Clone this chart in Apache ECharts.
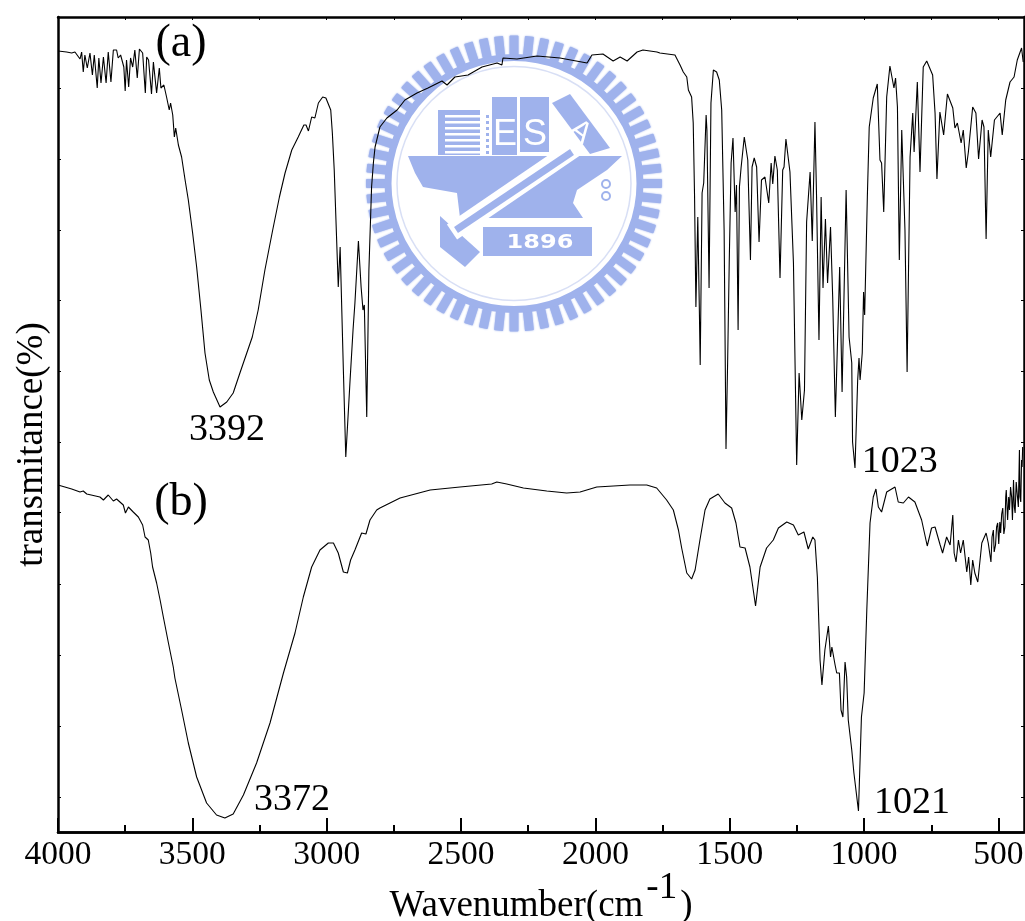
<!DOCTYPE html>
<html>
<head>
<meta charset="utf-8">
<script src="https://cdn.jsdelivr.net/npm/echarts@6/dist/echarts.min.js"></script>
<style>html,body{margin:0;padding:0;background:#fff}#main{width:1025px;height:921px}</style>
</head>
<body>
<div id="main"></div>
<script>
// wavenumber, transmittance (arbitrary offset units)
var spectrumA = [
    [4000,781],[3968,780],[3949,779],[3937,780],[3918,773],[3912,780],[3906,760],[3900,777],[3891,764],[3881,779],
    [3872,757],[3865,777],[3854,744],[3848,774],[3840,749],[3831,775],[3821,749],[3813,780],[3803,750],[3794,782],
    [3782,782],[3776,774],[3767,777],[3755,765],[3750,741],[3745,772],[3737,745],[3730,774],[3722,765],[3714,782],
    [3705,754],[3697,783],[3685,779],[3675,739],[3670,775],[3663,772],[3652,738],[3645,770],[3633,739],[3623,764],
    [3617,744],[3606,747],[3596,735],[3586,722],[3581,729],[3573,717],[3567,695],[3562,704],[3552,687],[3540,675],
    [3527,652],[3515,632],[3499,599],[3484,565],[3468,522],[3453,479],[3437,452],[3422,440],[3397,425],[3372,430],
    [3348,439],[3323,459],[3277,495],[3255,522],[3230,562],[3201,602],[3176,635],[3155,659],[3130,682],[3106,695],
    [3085,707],[3077,707],[3068,701],[3056,715],[3044,714],[3031,729],[3015,735],[3003,734],[2985,722],[2979,699],
    [2972,662],[2957,545],[2950,585],[2938,462],[2929,375],[2913,452],[2902,502],[2895,529],[2882,591],[2872,545],
    [2865,522],[2860,527],[2851,415],[2843,562],[2833,645],[2826,670],[2820,685],[2802,705],[2776,714],[2738,722],
    [2709,732],[2664,739],[2623,744],[2571,751],[2552,747],[2523,755],[2474,757],[2422,765],[2366,769],[2348,767],
    [2344,774],[2292,773],[2217,776],[2132,774],[2031,769],[2013,777],[1972,778],[1934,771],[1908,775],[1882,771],
    [1845,780],[1823,782],[1771,780],[1760,779],[1704,777],[1685,767],[1673,760],[1660,755],[1654,742],[1642,735],
    [1636,709],[1631,635],[1626,525],[1619,615],[1613,519],[1610,467],[1603,639],[1597,649],[1588,717],[1585,702],
    [1577,544],[1570,729],[1561,762],[1549,760],[1539,752],[1530,722],[1521,602],[1514,383],[1508,469],[1502,569],
    [1495,669],[1488,694],[1480,620],[1475,647],[1469,502],[1464,645],[1458,664],[1446,695],[1433,672],[1423,572],
    [1417,665],[1409,674],[1400,665],[1391,590],[1382,652],[1369,655],[1355,629],[1346,669],[1340,648],[1332,676],
    [1323,662],[1313,554],[1303,662],[1298,665],[1291,693],[1276,660],[1263,569],[1251,367],[1242,459],[1232,412],
    [1222,442],[1214,610],[1201,660],[1193,591],[1183,710],[1177,635],[1168,492],[1160,635],[1153,544],[1144,613],
    [1136,549],[1125,605],[1117,535],[1107,415],[1091,565],[1082,440],[1067,642],[1056,495],[1046,469],[1043,390],
    [1034,364],[1024,452],[1019,474],[1015,452],[1007,479],[1002,540],[998,517],[988,635],[981,705],[966,734],
    [951,748],[941,672],[935,669],[927,620],[916,735],[904,766],[889,744],[883,754],[876,725],[869,572],
    [860,702],[848,602],[840,460],[829,675],[819,719],[814,680],[802,750],[792,660],[780,765],[767,771],
    [745,757],[736,719],[729,653],[718,720],[704,697],[690,738],[670,724],[662,704],[653,709],[639,689],
    [631,702],[620,664],[612,680],[596,725],[584,719],[574,673],[561,712],[554,705],[546,593],[538,702],
    [529,675],[515,712],[494,719],[486,697],[473,732],[457,750],[442,755],[430,772],[414,784],[408,770]
];
var spectrumB = [
    [4000,347],[3949,343],[3918,340],[3906,341],[3893,338],[3844,335],[3831,332],[3813,337],[3794,331],[3782,333],
    [3757,327],[3749,319],[3738,325],[3720,320],[3701,315],[3685,307],[3676,295],[3664,292],[3655,279],[3648,265],
    [3633,249],[3620,232],[3608,215],[3589,189],[3571,165],[3565,154],[3540,122],[3515,89],[3484,55],[3447,29],
    [3410,17],[3379,14],[3348,18],[3310,37],[3261,69],[3211,109],[3161,159],[3118,199],[3087,235],[3056,265],
    [3025,282],[2994,289],[2975,289],[2957,279],[2938,260],[2923,259],[2911,272],[2895,282],[2870,299],[2854,298],
    [2839,312],[2814,322],[2802,324],[2727,334],[2615,342],[2504,345],[2386,348],[2367,350],[2330,348],[2268,344],
    [2181,341],[2107,339],[2057,340],[1995,345],[1871,347],[1809,347],[1772,344],[1735,332],[1710,322],[1691,302],
    [1679,284],[1660,259],[1642,253],[1629,262],[1611,292],[1592,322],[1574,333],[1543,338],[1518,329],[1493,324],
    [1477,309],[1462,285],[1443,284],[1425,265],[1404,226],[1387,265],[1363,284],[1338,292],[1319,304],[1288,310],
    [1263,307],[1245,297],[1224,300],[1208,283],[1191,295],[1183,292],[1174,255],[1164,172],[1157,147],[1146,182],
    [1133,206],[1125,175],[1120,185],[1108,167],[1102,159],[1092,159],[1086,122],[1079,115],[1071,170],[1065,155],
    [1059,112],[1046,82],[1038,59],[1021,21],[1010,115],[1000,139],[990,222],[978,309],[966,335],[956,343],
    [947,325],[935,320],[916,340],[885,345],[873,330],[854,329],[835,335],[811,330],[786,312],[765,286],
    [749,304],[736,305],[717,287],[708,279],[693,295],[680,287],[670,317],[665,279],[658,270],[649,292],
    [641,279],[631,292],[618,260],[611,275],[603,247],[596,272],[588,259],[577,250],[562,289],[546,299],
    [538,289],[528,270],[524,295],[519,302],[516,280],[511,287],[507,305],[503,309],[499,288],[495,310],
    [492,299],[488,318],[484,324],[480,298],[476,305],[473,335],[471,342],[466,312],[462,335],[459,322],
    [455,345],[451,335],[448,312],[444,352],[441,325],[438,319],[434,350],[430,352],[426,325],[422,382],
    [420,335],[417,330],[414,372],[412,365],[410,385]
];
var xLabels = [4000, 3500, 3000, 2500, 2000, 1500, 1000, 500];
var xMinorTicks = [4000, 3750, 3500, 3250, 3000, 2750, 2500, 2250, 2000, 1750, 1500, 1250, 1000, 750, 500];
var yTicks = [744, 673, 602, 532, 461, 390, 320, 248, 177, 106, 35];
var peakLabels = [[3371, 402, '3392'], [3129, 32, '3372'], [867, 370, '1023'], [822, 29, '1021']];
var panelLabels = [[3542, 788, '(a)'], [3542, 329, '(b)']];

var serif = '"Liberation Serif", "Times New Roman", serif';
var xMin = 405, xMax = 4000, yMax = 815;

function xAxisBase(extra) {
    return Object.assign({
        type: 'value', inverse: true, min: xMin, max: xMax, splitLine: { show: false },
        axisLine: { onZero: false, lineStyle: { color: '#000', width: 2.5 } },
        axisLabel: { show: false }
    }, extra);
}
function yAxisBase(extra) {
    return Object.assign({
        type: 'value', min: 0, max: yMax, splitLine: { show: false },
        axisLine: { onZero: false, lineStyle: { color: '#000', width: 2.5 } },
        axisTick: { inside: true, length: 3, customValues: yTicks, lineStyle: { color: '#000', width: 1 } },
        axisLabel: { show: false }
    }, extra);
}

// watermark logo behind the curves
var logoBlue = '#9fb2ec';
var cx = 514, cy = 183.5;
var logo = [];
for (var i = 0; i < 60; i++) {
    logo.push({
        type: 'rect', x: cx, y: cy, rotation: i * Math.PI * 2 / 60, z: 0,
        shape: { x: 128, y: -4.5, width: 20, height: 9, r: 1 },
        style: { fill: logoBlue, shadowBlur: 2, shadowColor: logoBlue }
    });
}
logo.push(
    { type: 'circle', z: 0, shape: { cx: cx, cy: cy, r: 126 }, style: { fill: '#fff', stroke: logoBlue, lineWidth: 7 } },
    { type: 'circle', z: 0, shape: { cx: cx, cy: cy, r: 117 }, style: { fill: '#fff', stroke: '#d8dff5', lineWidth: 1.5 } },
    { type: 'rect', z: 0, shape: { x: 438, y: 110, width: 42, height: 45 }, style: { fill: logoBlue } },
    { type: 'rect', z: 0, shape: { x: 492, y: 97, width: 25, height: 58 }, style: { fill: logoBlue } },
    { type: 'rect', z: 0, shape: { x: 520, y: 97, width: 29, height: 55 }, style: { fill: logoBlue } },
    { type: 'polygon', z: 0, shape: { points: [[552, 103], [570, 94], [610, 148], [590, 154]] }, style: { fill: logoBlue } },
    { type: 'polygon', z: 0, shape: { points: [[408, 156], [622, 156], [607, 170], [577, 190], [573, 203], [583, 218], [460, 218], [457, 193], [423, 187], [415, 173]] }, style: { fill: logoBlue } },
    { type: 'rect', z: 0, shape: { x: 483, y: 227, width: 109, height: 29 }, style: { fill: logoBlue } },
    { type: 'polygon', z: 0, shape: { points: [[440, 216], [480, 252], [465, 267], [440, 247]] }, style: { fill: logoBlue } },
    { type: 'circle', z: 0, shape: { cx: 606, cy: 184, r: 4 }, style: { fill: 'none', stroke: logoBlue, lineWidth: 2 } },
    { type: 'circle', z: 0, shape: { cx: 606, cy: 196, r: 4 }, style: { fill: 'none', stroke: logoBlue, lineWidth: 2 } }
);
[115, 121, 127, 133, 139, 145, 151].forEach(function (ly) {
    logo.push({ type: 'rect', z: 0, shape: { x: 445, y: ly, width: 35, height: 2.5 }, style: { fill: '#fff' } });
    logo.push({ type: 'rect', z: 0, shape: { x: 486, y: ly, width: 3, height: 3 }, style: { fill: logoBlue } });
});
logo.push(
    { type: 'line', z: 0, shape: { x1: 575, y1: 148, x2: 452, y2: 232 }, style: { stroke: '#fff', lineWidth: 18 } },
    { type: 'line', z: 0, shape: { x1: 572, y1: 152, x2: 456, y2: 230 }, style: { stroke: logoBlue, lineWidth: 7 } },
    { type: 'text', z: 0, x: 505, y: 135, style: { text: 'E', fill: '#fff', font: '36px "Liberation Sans"', align: 'center', verticalAlign: 'middle' } },
    { type: 'text', z: 0, x: 535, y: 135, style: { text: 'S', fill: '#fff', font: '36px "Liberation Sans"', align: 'center', verticalAlign: 'middle' } },
    { type: 'text', z: 0, x: 580, y: 132, rotation: -0.65, style: { text: 'A', fill: '#fff', font: '30px "Liberation Sans"', align: 'center', verticalAlign: 'middle' } },
    { type: 'text', z: 0, x: 540, y: 243, scaleY: 0.8, style: { text: '1896', fill: '#fff', font: 'bold 24px "DejaVu Sans"', align: 'center', verticalAlign: 'middle' } }
);

var chart = echarts.init(document.getElementById('main'), null, { renderer: 'canvas' });

var labelStyle = function (size) {
    return {
        show: true, position: 'inside', color: '#000', fontFamily: serif, fontSize: size,
        formatter: function (p) { return p.value[2]; }
    };
};

chart.setOption({
    animation: false,
    backgroundColor: '#fff',
    grid: { left: 58, right: 1, top: 17, bottom: 89, outerBoundsMode: 'none' },
    graphic: { elements: logo },
    xAxis: [
        xAxisBase({
            position: 'bottom',
            name: '{m|Wavenumber(cm}{s|-1}{m|)}',
            nameLocation: 'middle',
            nameGap: 38,
            nameMoveOverlap: false,
            nameTextStyle: {
                rich: {
                    m: { fontFamily: serif, fontSize: 37, color: '#000', verticalAlign: 'bottom' },
                    s: { fontFamily: serif, fontSize: 37, color: '#000', verticalAlign: 'bottom', padding: [0, 3, 18, 3] }
                }
            },
            axisTick: { inside: true, length: 14, customValues: xLabels, lineStyle: { color: '#000', width: 2 } },
            axisLabel: { show: true, color: '#000', fontFamily: serif, fontSize: 33.5, margin: 6, customValues: xLabels, formatter: function (v) { return String(v); } }
        }),
        xAxisBase({
            position: 'bottom',
            axisTick: { inside: true, length: 7, customValues: xMinorTicks, lineStyle: { color: '#000', width: 2 } }
        }),
        xAxisBase({
            position: 'top',
            axisTick: { inside: true, length: 3, customValues: xMinorTicks, lineStyle: { color: '#000', width: 1 } }
        })
    ],
    yAxis: [
        yAxisBase({
            position: 'left',
            name: 'transmitance(%)',
            nameLocation: 'middle',
            nameGap: 7,
            nameTextStyle: { fontFamily: serif, fontSize: 37, color: '#000', padding: [0, 40, 0, 0] }
        }),
        yAxisBase({ position: 'right' })
    ],
    series: [
        { name: '(a)', type: 'line', data: spectrumA, showSymbol: false, z: 5, lineStyle: { color: '#000', width: 1.1 } },
        { name: '(b)', type: 'line', data: spectrumB, showSymbol: false, z: 5, lineStyle: { color: '#000', width: 1.1 } },
        { name: 'peaks', type: 'scatter', data: peakLabels, symbolSize: 0, z: 6, itemStyle: { opacity: 1 }, label: labelStyle(38) },
        { name: 'panels', type: 'scatter', data: panelLabels, symbolSize: 0, z: 6, itemStyle: { opacity: 1 }, label: labelStyle(46) }
    ]
});
</script>
</body>
</html>
